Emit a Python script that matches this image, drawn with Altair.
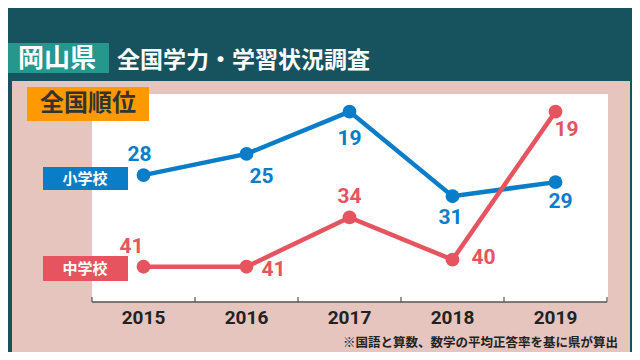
import altair as alt
import pandas as pd

years = ["2015", "2016", "2017", "2018", "2019"]
elementary = [28, 25, 19, 31, 29]
junior = [41, 41, 34, 40, 19]
series_names = ["小学校", "中学校"]
colors = ["#0A7DC8", "#E5545F"]

# label offsets (style, px)
elem_dx = [-4, 15, 0, -2, 5]
elem_dy = [-20, 23, 27, 22, 20]
jun_dx = [-12, 27, 0, 31, 11]
jun_dy = [-20, 3, -20, -2, 18]

rows = []
for i, y in enumerate(years):
    rows.append({"year": y, "school": series_names[0], "rank": elementary[i]})
for i, y in enumerate(years):
    rows.append({"year": y, "school": series_names[1], "rank": junior[i]})
df = pd.DataFrame(rows)

W, H = 515, 208
TEAL = "#17535E"
JP = "Noto Sans CJK JP"

one = pd.DataFrame({"a": [0]})

def rect(x, x2, y, y2, color):
    return alt.Chart(one).mark_rect(color=color, opacity=1).encode(
        x=alt.value(x), x2=alt.value(x2), y=alt.value(y), y2=alt.value(y2))

def label(text, x, y, size, color, align="center", font=JP, weight="bold"):
    return alt.Chart(pd.DataFrame({"t": [text]})).mark_text(
        fontSize=size, font=font, fontWeight=weight, color=color,
        align=align, baseline="middle").encode(
        x=alt.value(x), y=alt.value(y), text="t:N")

xscale = alt.Scale(domain=years, paddingInner=0, paddingOuter=0)
yscale = alt.Scale(domain=[16.5, 46], reverse=True, zero=False, nice=False)
cscale = alt.Scale(domain=series_names, range=colors)
xaxis = alt.Axis(title=None, domain=False, ticks=False, grid=False, zindex=2,
                 labelAngle=0, labelFont="Roboto", labelFontWeight="bold",
                 labelFontSize=19, labelColor="#222222", labelPadding=6)

pink = rect(-80, 538, -13, 258, "#E6C5BF")
white = rect(0, 516, 0, 208, "#FFFFFF")
title_box = rect(-92, 17, -51, -21, "#25978D")
title1 = label("岡山県", -35, -35, 26, "#FFFFFF")
title2 = label("全国学力・学習状況調査", 25, -33, 23, "#FFFFFF", align="left")
orange = rect(-65, 57, -7, 27, "#FF9900")
orange_t = label("全国順位", -4, 10, 24, "#333333")
blue_box = rect(-49, 36, 73, 96, colors[0])
blue_t = label("小学校", -7, 84.5, 15, "#FFFFFF")
red_box = rect(-49, 36, 162, 187, colors[1])
red_t = label("中学校", -7, 174.5, 15, "#FFFFFF")
foot = label("※国語と算数、数学の平均正答率を基に県が算出", 526, 249, 12.5, "#222222", align="right")

axis_line = alt.Chart(one).mark_rule(color="#555555", strokeWidth=1.5).encode(
    x=alt.value(0), x2=alt.value(W), y=alt.value(H))
ticks = alt.Chart(pd.DataFrame({"year": years})).mark_rule(color="#555555", strokeWidth=1.2).encode(
    x=alt.X("year:N", bandPosition=0, scale=xscale, axis=xaxis),
    y=alt.value(H - 5), y2=alt.value(H))
last_tick = alt.Chart(one).mark_rule(color="#555555", strokeWidth=1.2).encode(
    x=alt.value(W), y=alt.value(H - 5), y2=alt.value(H))

base = alt.Chart(df).encode(
    x=alt.X("year:N", scale=xscale, axis=xaxis),
    y=alt.Y("rank:Q", scale=yscale, axis=None),
    color=alt.Color("school:N", scale=cscale, legend=None),
    detail="school:N",
)
lines = base.mark_line(strokeWidth=4.5)
points = base.mark_circle(size=190, opacity=1)

text_layers = []
for s, dxs, dys in [(series_names[0], elem_dx, elem_dy), (series_names[1], jun_dx, jun_dy)]:
    for i, yr in enumerate(years):
        text_layers.append(
            base.transform_filter(
                (alt.datum.school == s) & (alt.datum.year == yr)
            ).mark_text(fontSize=21, font="Roboto", fontWeight="bold",
                        align="center", baseline="middle",
                        dx=dxs[i], dy=dys[i]).encode(text="rank:Q")
        )

chart = alt.layer(
    pink, white, title_box, title1, title2, orange, orange_t,
    blue_box, blue_t, red_box, red_t, foot,
    ticks, axis_line, last_tick, lines, points, *text_layers,
).properties(
    width=W, height=H,
    padding={"left": 84, "top": 86, "right": 25, "bottom": 50},
    autosize=alt.AutoSizeParams(type="none"),
).configure(background=TEAL).configure_view(stroke=None)

chart.save("out.html", embed_options={"renderer": "svg", "actions": False})
